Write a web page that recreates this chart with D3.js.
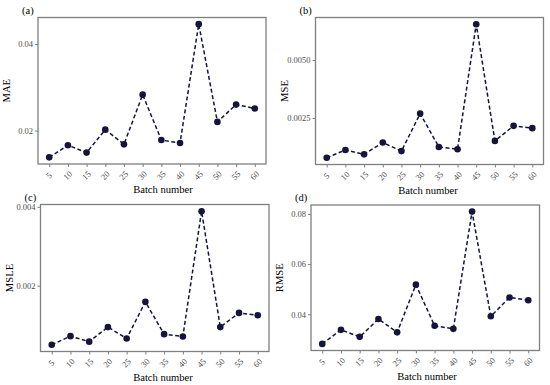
<!DOCTYPE html>
<html lang="en">
<head>
  <meta charset="UTF-8" />
  <title>Error metrics by batch number</title>
  <script src="https://unpkg.com/d3@7/dist/d3.min.js"></script>
  <style>
    body {
      margin: 0;
      background: #ffffff;
      font-family: "Liberation Serif", "DejaVu Serif", serif;
    }
    svg { display: block; }
    .frame { fill: none; stroke: #7f7f7f; stroke-width: 1.3; }
    .axis path { display: none; }
    .axis line { stroke: #7f7f7f; stroke-width: 1; }
    .axis text { fill: #4d4d4d; font-size: 8.5px; font-family: "Liberation Serif", serif; }
    .title { fill: #000; font-size: 10.6px; }
    .tag { fill: #000; font-size: 10.5px; }
  </style>
</head>
<body>
  <svg id="chart" width="550" height="385"></svg>

  <script>
  // batch sizes on the x axis
  const batches = [5, 10, 15, 20, 25, 30, 35, 40, 45, 50, 55, 60];

  // metric values
  const mae  = [0.0138, 0.0166, 0.0149, 0.0202, 0.0168, 0.0283, 0.0178, 0.0171, 0.0446, 0.0220, 0.0260, 0.0251];
  const mse  = [0.00078, 0.00112, 0.00093, 0.00144, 0.00107, 0.00269, 0.00125, 0.00115, 0.00655, 0.00151, 0.00216, 0.00206];
  const msle = [0.00050, 0.00072, 0.00058, 0.00095, 0.00066, 0.00159, 0.00077, 0.00071, 0.00389, 0.00095, 0.00131, 0.00125];
  const rmse = [0.0282, 0.0338, 0.0310, 0.0381, 0.0328, 0.0518, 0.0354, 0.0342, 0.0809, 0.0392, 0.0467, 0.0456];

  // y tick labels
  const maeTicks  = [0.02, 0.04];
  const mseTicks  = [0.0025, 0.0050];
  const msleTicks = [0.002, 0.004];
  const rmseTicks = [0.04, 0.06, 0.08];

  const panels = [
    { tag: "(a)", name: "MAE",  values: mae,  ticks: maeTicks,  fmt: ".2f", box: [38, 266, 17.5, 164], xTitle: 163 },
    { tag: "(b)", name: "MSE",  values: mse,  ticks: mseTicks,  fmt: ".4f", box: [315.5, 543.5, 17.5, 164.5], xTitle: 428 },
    { tag: "(c)", name: "MSLE", values: msle, ticks: msleTicks, fmt: ".3f", box: [40.5, 269, 204.5, 351.5], xTitle: 163 },
    { tag: "(d)", name: "RMSE", values: rmse, ticks: rmseTicks, fmt: ".2f", box: [311, 539.5, 205, 350.5], xTitle: 427 }
  ];

  const svg = d3.select("#chart");
  const ink = "#14143c";

  panels.forEach(p => {
    const [x0, x1, y0, y1] = p.box;
    const data = batches.map((b, i) => ({ batch: b, v: p.values[i] }));

    const x = d3.scalePoint()
      .domain(batches)
      .range([x0, x1])
      .padding(0.6);

    // ggplot-style 5% expansion of the data range
    const [lo, hi] = d3.extent(p.values);
    const pad = (hi - lo) * 0.05;
    const y = d3.scaleLinear()
      .domain([lo - pad, hi + pad])
      .range([y1, y0]);

    const g = svg.append("g");

    g.append("rect")
      .attr("class", "frame")
      .attr("x", x0).attr("y", y0)
      .attr("width", x1 - x0).attr("height", y1 - y0);

    // x axis, labels turned 45 degrees
    const xa = g.append("g")
      .attr("class", "axis")
      .attr("transform", `translate(0,${y1})`)
      .call(d3.axisBottom(x).tickSize(3).tickPadding(0));
    xa.selectAll("text")
      .attr("y", 0).attr("dy", 0)
      .attr("text-anchor", "middle")
      .attr("transform", "translate(0,12) rotate(-45)")
      .attr("dominant-baseline", "middle");

    // y axis
    g.append("g")
      .attr("class", "axis")
      .attr("transform", `translate(${x0},0)`)
      .call(d3.axisLeft(y).tickValues(p.ticks).tickFormat(d3.format(p.fmt)).tickSize(3).tickPadding(2));

    // dashed line + points
    g.append("path")
      .datum(data)
      .attr("fill", "none")
      .attr("stroke", ink)
      .attr("stroke-width", 1.5)
      .attr("stroke-dasharray", "4,2.5")
      .attr("d", d3.line().x(d => x(d.batch)).y(d => y(d.v)));

    g.selectAll("circle")
      .data(data)
      .join("circle")
        .attr("cx", d => x(d.batch))
        .attr("cy", d => y(d.v))
        .attr("r", 3.3)
        .attr("fill", ink);

    // titles
    g.append("text")
      .attr("class", "title")
      .attr("x", p.xTitle)
      .attr("y", y1 + 29)
      .attr("text-anchor", "middle")
      .text("Batch number");

    g.append("text")
      .attr("class", "title")
      .attr("transform", `translate(${x0 - 28},${(y0 + y1) / 2}) rotate(-90)`)
      .attr("text-anchor", "middle")
      .text(p.name);

    g.append("text")
      .attr("class", "tag")
      .attr("x", x0 - 16)
      .attr("y", y0 - 4)
      .text(p.tag);
  });
  </script>
</body>
</html>
